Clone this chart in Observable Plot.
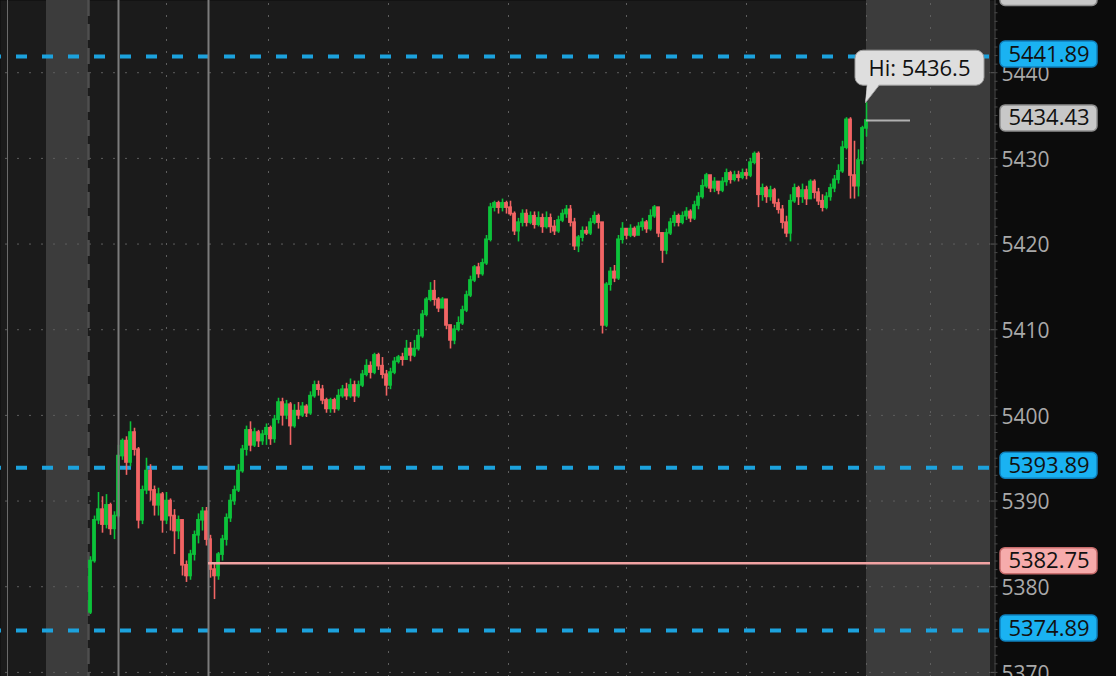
<!DOCTYPE html>
<html><head><meta charset="utf-8">
<script src="https://cdn.jsdelivr.net/npm/d3@7"></script>
<script src="https://cdn.jsdelivr.net/npm/@observablehq/plot@0.6"></script>
<style>html,body{margin:0;padding:0;background:#0c0c0c;overflow:hidden;}#chart svg{display:block;}</style>
</head><body><div id="chart"></div>
<script>
// ---- data (2-minute bars from 09:30; minutes since 09:30) ----
const sessionOpen = 5377.0;
const closes = [5383.0,5387.75,5389.0,5387.25,5389.5,5386.75,5388.25,5395.25,5397.0,5394.5,
5398.0,5396.0,5387.75,5391.25,5393.5,5391.25,5389.5,5390.75,5387.75,5390.0,
5388.25,5386.5,5387.75,5382.5,5381.25,5383.75,5386.0,5387.75,5388.75,5385.5,
5382.0,5381.25,5383.75,5385.5,5388.0,5390.0,5391.25,5393.5,5396.0,5398.25,
5396.5,5398.0,5397.0,5397.75,5398.5,5397.25,5399.5,5401.5,5400.0,5401.25,
5398.75,5400.5,5400.0,5401.0,5400.25,5402.25,5403.5,5403.0,5401.75,5400.75,
5401.75,5400.75,5402.25,5403.0,5402.25,5403.5,5402.25,5403.5,5404.75,5405.75,
5405.0,5407.0,5405.75,5404.75,5403.5,5405.0,5406.25,5406.75,5406.5,5407.75,
5407.0,5407.75,5409.25,5411.75,5413.5,5414.5,5413.5,5412.5,5413.5,5410.5,
5408.75,5410.0,5410.75,5412.25,5414.0,5415.75,5417.25,5416.5,5417.75,5420.5,
5424.25,5424.75,5424.25,5424.75,5424.25,5423.5,5421.5,5422.5,5423.5,5422.5,
5423.25,5422.25,5423.0,5422.0,5423.0,5422.0,5421.5,5422.75,5423.5,5424.0,
5422.5,5419.75,5420.75,5421.5,5421.25,5422.5,5423.25,5422.5,5410.5,5415.25,
5416.75,5416.0,5420.5,5421.75,5421.0,5421.75,5421.0,5422.0,5422.5,5421.75,
5423.25,5424.25,5421.25,5419.25,5421.25,5422.5,5423.25,5422.5,5423.25,5423.75,
5423.0,5424.5,5425.5,5426.75,5428.0,5426.5,5427.25,5426.25,5427.25,5428.25,
5427.5,5428.0,5427.75,5428.25,5428.0,5429.5,5430.5,5425.75,5426.5,5425.5,
5426.25,5424.75,5424.0,5422.5,5421.25,5425.0,5426.5,5425.5,5426.25,5425.25,
5427.25,5426.0,5425.0,5424.25,5425.5,5426.5,5427.5,5428.5,5431.25,5434.5,
5428.0,5426.75,5429.75,5433.5,5434.43];
const highs = [5383.5,5388.25,5391.0,5390.5,5390.75,5389.75,5388.75,5396.5,5397.25,5397.5,
5399.25,5398.5,5396.25,5391.75,5395.0,5394.25,5391.75,5391.5,5391.0,5391.0,
5390.25,5389.0,5388.25,5387.75,5383.0,5384.25,5386.5,5388.5,5389.25,5389.25,
5386.0,5382.75,5384.0,5386.0,5388.5,5390.75,5391.75,5394.25,5396.5,5398.75,
5399.25,5398.5,5398.25,5398.25,5399.0,5398.75,5400.0,5402.0,5402.0,5401.75,
5401.5,5401.25,5401.5,5401.5,5401.25,5402.75,5404.0,5404.0,5403.5,5402.0,
5402.0,5402.0,5403.0,5403.5,5403.75,5404.25,5404.0,5404.0,5405.25,5406.5,
5406.25,5407.25,5407.25,5406.75,5405.25,5405.5,5406.75,5407.0,5407.25,5408.75,
5408.5,5408.75,5410.0,5412.25,5413.75,5415.5,5415.75,5413.75,5413.75,5413.5,
5410.5,5410.5,5411.5,5412.75,5414.5,5416.25,5417.5,5417.75,5418.25,5421.0,
5424.75,5425.0,5425.0,5425.25,5425.0,5425.0,5423.75,5423.0,5424.0,5424.0,
5423.75,5423.75,5423.75,5423.5,5423.75,5423.5,5422.75,5423.25,5424.0,5424.5,
5424.5,5423.0,5421.0,5422.0,5422.0,5423.0,5423.75,5423.5,5422.5,5415.5,
5417.25,5417.5,5421.0,5422.5,5421.75,5422.25,5422.0,5422.5,5423.0,5422.75,
5424.0,5424.5,5424.25,5421.25,5421.75,5423.0,5423.75,5423.5,5423.75,5424.25,
5424.0,5425.0,5426.0,5427.5,5428.25,5428.0,5427.75,5427.25,5427.75,5428.75,
5428.5,5428.5,5428.5,5428.75,5428.75,5430.0,5430.75,5430.75,5427.0,5426.75,
5426.75,5426.5,5425.25,5424.5,5423.25,5425.75,5427.0,5426.75,5427.0,5426.75,
5427.5,5427.5,5426.5,5425.75,5426.0,5427.0,5428.0,5429.25,5432.0,5434.75,
5434.75,5432.0,5431.0,5433.75,5436.5];
const lows = [5376.75,5382.75,5387.25,5386.25,5386.75,5386.0,5385.5,5388.0,5394.75,5393.0,
5394.0,5395.25,5386.75,5387.25,5390.75,5390.0,5388.25,5388.25,5386.25,5387.25,
5386.5,5383.75,5385.5,5381.25,5380.5,5380.75,5383.0,5385.0,5386.5,5384.75,
5381.0,5378.5,5380.75,5383.0,5384.75,5387.5,5389.5,5391.0,5393.25,5395.25,
5395.75,5396.25,5396.25,5396.5,5396.5,5396.5,5396.75,5399.0,5398.75,5399.5,
5396.5,5398.5,5399.5,5399.75,5399.75,5400.0,5402.0,5402.25,5401.25,5400.25,
5400.25,5400.25,5400.5,5402.0,5401.75,5402.0,5401.5,5402.0,5403.25,5404.5,
5404.25,5404.75,5405.25,5404.25,5402.25,5403.0,5404.75,5406.0,5405.75,5406.5,
5406.25,5406.75,5407.5,5409.0,5411.5,5413.25,5412.75,5412.0,5412.5,5410.0,
5407.75,5408.25,5409.75,5410.5,5412.0,5413.75,5415.5,5416.0,5416.25,5417.5,
5420.25,5423.75,5423.5,5423.75,5423.5,5423.25,5421.0,5420.25,5422.0,5422.0,
5422.25,5421.75,5422.0,5421.25,5421.75,5421.25,5421.0,5421.25,5422.5,5423.0,
5422.0,5419.25,5419.0,5420.25,5421.0,5421.0,5422.25,5421.75,5409.5,5410.25,
5414.5,5415.5,5415.75,5420.0,5420.5,5420.75,5420.75,5421.0,5421.5,5421.25,
5421.5,5423.0,5420.75,5417.75,5418.75,5421.0,5422.0,5422.0,5422.25,5422.75,
5422.5,5422.75,5424.0,5425.25,5426.5,5426.0,5426.0,5425.75,5426.0,5426.75,
5427.0,5427.25,5427.25,5427.5,5427.5,5427.75,5429.25,5424.25,5425.0,5424.75,
5425.0,5424.25,5423.5,5421.75,5420.75,5420.25,5424.75,5424.5,5424.75,5424.5,
5425.25,5425.25,5424.5,5423.75,5424.0,5425.0,5426.0,5427.0,5428.25,5431.0,
5425.25,5425.25,5425.5,5429.25,5432.5];
const barMinutes = 2;
const priceTicks = [5370, 5380, 5390, 5400, 5410, 5420, 5430, 5440];
const gridTimes = [39, 90, 150, 210, 269, 329, 389, 421];
const markerTimes = [15, 60];
const farMarkerTimes = [-40.5];
const sessionStart = [0];
const extendedHours = [{start: -21, end: 0}, {start: 389, end: 451}];
const blueLevels = [5441.89, 5393.89, 5374.89];
const pinkLevel = 5382.75;
const pinkStart = 60;
const lastPrice = 5434.43;
const dayHigh = 5436.5;
const badges = [
  {value: 5449.07, kind: "gray"},
  {value: 5441.89, kind: "blue"},
  {value: 5434.43, kind: "gray"},
  {value: 5393.89, kind: "blue"},
  {value: 5382.75, kind: "pink"},
  {value: 5374.89, kind: "blue"}
];
const timeDomain = [-44, 451];
const priceDomain = [5369.52, 5448.43];

// ---- styles ----
const UP = "#0cc23a", DOWN = "#f26464";
const badgeStyle = {
  blue: {fill: "#1ab2f2", stroke: "#0f80bd"},
  gray: {fill: "#c8c8c8", stroke: "#8e8e8e"},
  pink: {fill: "#f6abab", stroke: "#c76c6c"}
};

const candles = closes.map((c, i) => {
  const o = i === 0 ? sessionOpen : closes[i - 1];
  return {t: i * barMinutes, o, c, h: Math.max(highs[i], o, c), l: Math.min(lows[i], o, c), up: c >= o};
});
const lastBar = candles[candles.length - 1];
const hiAnchor = [{t: lastBar.t + 1, v: dayHigh}];
const xMax = timeDomain[1];
const minorTicks = d3.range(Math.ceil(priceDomain[0]), priceDomain[1], 1);

const tailSymbol = {draw(ctx) { ctx.moveTo(-1, 0); ctx.lineTo(1, -19); ctx.lineTo(13, -18); ctx.closePath(); }};

const chart = Plot.plot({
  width: 1116, height: 676,
  marginLeft: 0, marginRight: 126, marginTop: 0, marginBottom: 0,
  x: {domain: timeDomain, axis: null},
  y: {domain: priceDomain, axis: null},
  color: {type: "identity"},
  style: {background: "#0c0c0c", fontFamily: "'Open Sans', sans-serif", overflow: "visible"},
  marks: [
    Plot.frame({fill: "#1b1b1b", stroke: null, insetRight: -4}),
    Plot.rect(extendedHours, {x1: "start", x2: "end", fill: "#3c3c3c"}),
    Plot.ruleY(priceTicks, {stroke: "#5e5e5e", strokeWidth: 1, strokeDasharray: "2,10", strokeDashoffset: 7}),
    Plot.ruleX(gridTimes, {stroke: "#5e5e5e", strokeWidth: 1, strokeDasharray: "2,10", strokeDashoffset: 9}),
    Plot.ruleX(sessionStart, {stroke: "#4e4e4e", strokeWidth: 2.5, strokeDasharray: "16,8"}),
    Plot.ruleY(blueLevels, {stroke: "#1ca2dd", strokeWidth: 4, strokeDasharray: "11,15", strokeDashoffset: 10}),
    // candles
    Plot.ruleX(candles, {x: d => d.t + 1, y1: "l", y2: "h", stroke: d => d.up ? UP : DOWN, strokeWidth: 1.6}),
    Plot.rect(candles, {x1: d => d.t + 0.05, x2: d => d.t + 1.95, y1: d => Math.min(d.o, d.c), y2: d => Math.max(d.o, d.c),
      insetTop: -0.8, insetBottom: -0.8, fill: d => d.up ? UP : DOWN}),
    // markers
    Plot.ruleX(farMarkerTimes, {stroke: "#6a6a6a", strokeWidth: 1}),
    Plot.ruleX(markerTimes, {stroke: "#7c7c7c", strokeWidth: 2}),
    Plot.ruleY([pinkLevel], {x1: pinkStart, x2: xMax, stroke: "#f1a3a3", strokeWidth: 2.5}),
    Plot.ruleY([lastPrice], {x1: lastBar.t + 1, x2: lastBar.t + 23, stroke: "#b0b0b0", strokeWidth: 2}),
    // right axis
    Plot.ruleX([xMax], {dx: 4.5, stroke: "#4a4a4a", strokeWidth: 1}),
    Plot.ruleY(minorTicks, {x1: xMax, x2: xMax, dx: 4.5, insetRight: -3, stroke: "#4a4a4a"}),
    Plot.ruleY(priceTicks, {x1: xMax - 2, x2: xMax, dx: 4.5, stroke: "#5a5a5a"}),
    Plot.text(priceTicks, {x: () => xMax, y: d => d, text: d => String(d), dx: 11, dy: 1.5, textAnchor: "start", fontSize: 21, fill: "#a9a9a9"}),
    // badges
    Plot.rect(badges, {x1: () => xMax, x2: () => xMax, y1: "value", y2: "value", insetLeft: 10, insetRight: -107,
      insetTop: -13, insetBottom: -13, dy: -2, rx: 5, fill: d => badgeStyle[d.kind].fill, stroke: d => badgeStyle[d.kind].stroke, strokeWidth: 1.5}),
    Plot.text(badges, {x: () => xMax, y: "value", text: d => d.value.toFixed(2), dx: 58.5, dy: -2, fontSize: 22, fill: "#111"}),
    // Hi callout
    Plot.dot(hiAnchor, {x: "t", y: "v", symbol: tailSymbol, r: 5, fill: "#dedede", stroke: "#9c9c9c", strokeWidth: 1}),
    Plot.rect(hiAnchor, {x1: "t", x2: "t", y1: "v", y2: "v", insetLeft: -11, insetRight: -118, insetTop: -52, insetBottom: 17,
      rx: 8, fill: "#dedede", stroke: "#9c9c9c", strokeWidth: 1}),
    Plot.dot(hiAnchor, {x: "t", y: "v", symbol: tailSymbol, r: 5, fill: "#dedede", stroke: null, dy: -1}),
    Plot.text(hiAnchor, {x: "t", y: "v", text: d => `Hi: ${d.v}`, dx: 53, dy: -34, fontSize: 22, fill: "#111"})
  ]
});
document.getElementById("chart").appendChild(chart);
</script>
</body></html>
